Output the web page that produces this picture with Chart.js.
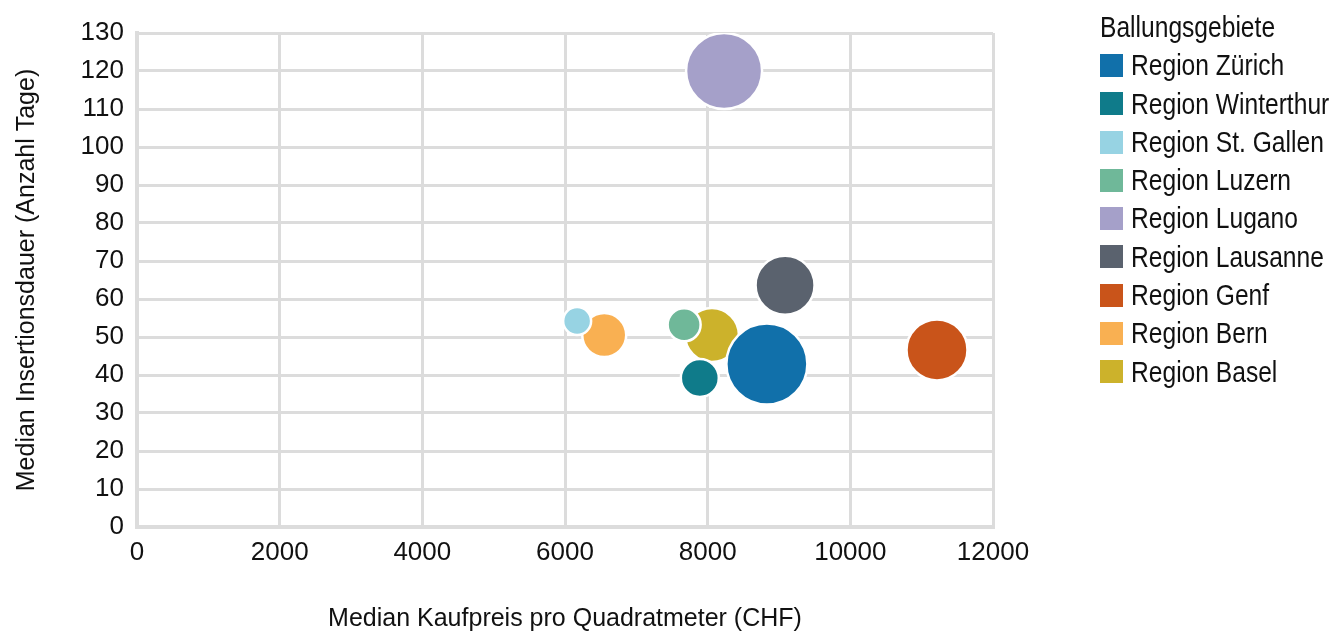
<!DOCTYPE html>
<html lang="de">
<head>
<meta charset="utf-8">
<title>Ballungsgebiete</title>
<script src="https://cdn.jsdelivr.net/npm/chart.js@4"></script>
<style>
  html, body { margin: 0; padding: 0; background: #fff; }
  #wrap { position: relative; width: 1336px; height: 634px; }
  #legende {
    position: absolute; left: 1100px; top: 8px;
    font-family: 'Liberation Sans', Arial, sans-serif;
    font-size: 30px; color: #111; line-height: 38.3px;
  }
  #legende .zeile { display: flex; align-items: center; height: 38.3px; white-space: nowrap; }
  #legende .box { width: 23px; height: 23px; margin-right: 8px; flex: none; }
  #legende .txt { display: inline-block; transform: scaleX(0.82); transform-origin: 0 50%; }
</style>
</head>
<body>
<div id="wrap">
  <canvas id="c" width="1336" height="634"></canvas>
  <div id="legende"></div>
</div>
<script>
// ── Daten ──
var regionen = ['Region Zürich', 'Region Winterthur', 'Region St. Gallen', 'Region Luzern',
    'Region Lugano', 'Region Lausanne', 'Region Genf', 'Region Bern', 'Region Basel'];
var kaufpreis = [8830, 7890, 6170, 7670, 8230, 9085, 11215, 6550, 8060];   // CHF pro m2
var insertionsdauer = [42.9, 39.2, 54.2, 53.2, 120, 63.6, 46.6, 50.5, 50.5]; // Tage
var blasenRadius = [40.5, 19, 14, 16.5, 38, 29.5, 30.5, 22, 27];
var farben = ['#1170aa', '#0f7b8a', '#97d3e3', '#6fb899', '#a5a0c9',
    '#5a626e', '#c9541a', '#f9b052', '#ccb22b'];
var xTicks = [0, 2000, 4000, 6000, 8000, 10000, 12000];
var yTicks = [0, 10, 20, 30, 40, 50, 60, 70, 80, 90, 100, 110, 120, 130];

var schrift = "'Liberation Sans', Arial, sans-serif";
var gitter = '#dcdcdc';

var datasets = regionen.map(function (name, i) {
    return {
        label: name,
        data: [{ x: kaufpreis[i], y: insertionsdauer[i], r: blasenRadius[i] }],
        backgroundColor: farben[i],
        borderColor: '#ffffff',
        borderWidth: 2.5,
        hoverBorderWidth: 2.5
    };
});

function setTicks(list) {
    return function (s) { s.ticks = list.map(function (v) { return { value: v }; }); };
}

new Chart(document.getElementById('c'), {
    type: 'bubble',
    data: { datasets: datasets },
    options: {
        responsive: false,
        animation: false,
        layout: { autoPadding: false, padding: { top: 33, right: 343, left: 0, bottom: 0 } },
        plugins: { legend: { display: false }, tooltip: { enabled: false } },
        scales: {
            x: {
                type: 'linear',
                min: xTicks[0], max: xTicks[xTicks.length - 1],
                afterBuildTicks: setTicks(xTicks),
                afterFit: function (s) { s.height = 107; },
                grid: { color: gitter, lineWidth: 3, drawTicks: false },
                border: { color: gitter, width: 4 },
                ticks: {
                    padding: 10, color: '#111', autoSkip: false, maxRotation: 0,
                    font: { family: schrift, size: 26 },
                    callback: function (v) { return String(v); }
                },
                title: {
                    display: true, text: 'Median Kaufpreis pro Quadratmeter (CHF)',
                    color: '#111', font: { family: schrift, size: 25, lineHeight: 1 },
                    padding: { top: 0, bottom: 2 }
                }
            },
            y: {
                type: 'linear',
                min: yTicks[0], max: yTicks[yTicks.length - 1],
                afterBuildTicks: setTicks(yTicks),
                afterFit: function (s) { s.width = 137; },
                grid: { color: gitter, lineWidth: 3, drawTicks: false },
                border: { color: gitter, width: 4 },
                ticks: {
                    padding: 13, color: '#111', autoSkip: false,
                    font: { family: schrift, size: 26 },
                    callback: function (v) { return String(v); }
                },
                title: {
                    display: true, text: 'Median Insertionsdauer (Anzahl Tage)',
                    color: '#111', font: { family: schrift, size: 25, lineHeight: 1.2 },
                    padding: { top: 12, bottom: 0 }
                }
            }
        }
    }
});

// ── Legende ──
var leg = document.getElementById('legende');
var titel = document.createElement('div');
titel.className = 'zeile';
titel.innerHTML = '<span class="txt">Ballungsgebiete</span>';
leg.appendChild(titel);
regionen.forEach(function (name, i) {
    var z = document.createElement('div');
    z.className = 'zeile';
    var b = document.createElement('span');
    b.className = 'box';
    b.style.background = farben[i];
    var t = document.createElement('span');
    t.className = 'txt';
    t.textContent = name;
    z.appendChild(b);
    z.appendChild(t);
    leg.appendChild(z);
});
</script>
</body>
</html>
